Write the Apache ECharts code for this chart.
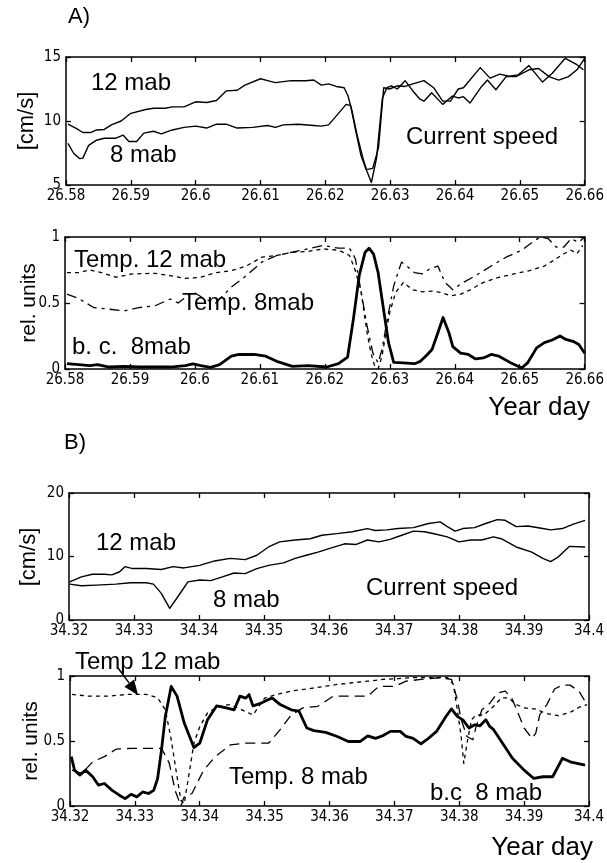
<!DOCTYPE html>
<html>
<head>
<meta charset="utf-8">
<script src="https://cdn.jsdelivr.net/npm/echarts/dist/echarts.min.js"></script>
<style>
  html, body { margin: 0; padding: 0; background: #ffffff; }
  #chart { width: 607px; height: 863px; }
</style>
</head>
<body>
<div id="chart"></div>
<script>
// ---------------- DATA ----------------
// Axis ranges (year day) and y ranges
const rangeA = [26.58, 26.66];
const rangeB = [34.32, 34.40];
const xTickStep = 0.01;
const speedRangeA = [5, 15, 5];   // min, max, interval
const speedRangeB = [0, 20, 10];
const relRange = [0, 1, 0.5];

// Panel A) current speed [cm/s]
const A_speed12 = [[26.5803,9.76],[26.5815,9.44],[26.5826,9.1],[26.5838,9.1],[26.5847,9.3],[26.5859,9.34],[26.5870,9.7],[26.5885,10.0],[26.5900,10.6],[26.5923,10.9],[26.5935,11.0],[26.5953,11.0],[26.5964,11.1],[26.5982,11.1],[26.6000,11.5],[26.6017,11.45],[26.6032,11.6],[26.6047,12.35],[26.6064,12.4],[26.6076,12.8],[26.6100,13.3],[26.6111,13.15],[26.6123,13.0],[26.6147,13.15],[26.6170,13.15],[26.6182,13.2],[26.6194,12.8],[26.6205,12.9],[26.6217,12.7],[26.6229,12.6],[26.6235,11.95],[26.6241,10.8],[26.6249,8.9],[26.6258,7.1],[26.6264,6.1],[26.6271,5.2],[26.6279,7.1],[26.6288,11.8],[26.6295,12.6],[26.6302,12.75],[26.6311,12.5],[26.6323,13.15],[26.6335,12.35],[26.6346,11.7],[26.6352,11.55],[26.6364,12.2],[26.6381,11.3],[26.6396,11.95],[26.6405,11.8],[26.6413,11.9],[26.6423,11.4],[26.6441,12.7],[26.6450,13.2],[26.6463,12.44],[26.6479,13.47],[26.6494,13.47],[26.6514,14.0],[26.6529,14.1],[26.6545,13.47],[26.6560,13.2],[26.6575,13.47],[26.6588,14.0],[26.6600,14.9]];
const A_speed8 = [[26.5803,8.25],[26.5812,7.46],[26.5821,7.06],[26.5826,7.1],[26.5835,8.1],[26.5847,8.5],[26.5859,8.65],[26.5876,8.65],[26.5888,8.9],[26.5897,8.4],[26.5909,8.4],[26.5920,9.05],[26.5935,9.2],[26.5947,9.0],[26.5964,9.3],[26.5982,9.5],[26.6000,9.6],[26.6017,9.45],[26.6032,9.75],[26.6047,9.75],[26.6064,9.45],[26.6088,9.5],[26.6111,9.65],[26.6123,9.5],[26.6135,9.7],[26.6158,9.75],[26.6182,9.65],[26.6194,9.6],[26.6205,9.7],[26.6217,10.4],[26.6232,11.3],[26.6239,11.2],[26.6246,9.45],[26.6255,7.3],[26.6263,6.2],[26.6273,6.3],[26.6282,7.9],[26.6290,12.6],[26.6299,12.5],[26.6311,12.75],[26.6323,12.7],[26.6335,12.9],[26.6352,13.15],[26.6367,12.6],[26.6381,11.55],[26.6393,11.55],[26.6405,12.5],[26.6413,12.6],[26.6439,14.17],[26.6454,13.35],[26.6469,13.66],[26.6483,13.5],[26.6497,13.6],[26.6514,14.33],[26.6535,13.04],[26.6550,13.73],[26.6570,14.9],[26.6588,14.4],[26.6598,14.0]];

// Panel A) relative units
const A_bc8 = [[26.5803,0.04],[26.5821,0.033],[26.5838,0.025],[26.5850,0.033],[26.5868,0.015],[26.5891,0.02],[26.5915,0.015],[26.5938,0.015],[26.5962,0.015],[26.5985,0.025],[26.5997,0.038],[26.6009,0.025],[26.6024,0.013],[26.6038,0.033],[26.6056,0.097],[26.6068,0.11],[26.6091,0.11],[26.6109,0.097],[26.6126,0.058],[26.6150,0.02],[26.6174,0.025],[26.6203,0.015],[26.6221,0.04],[26.6235,0.09],[26.6244,0.38],[26.6253,0.71],[26.6262,0.885],[26.6268,0.915],[26.6275,0.87],[26.6282,0.73],[26.6291,0.43],[26.6298,0.2],[26.6306,0.05],[26.6321,0.046],[26.6338,0.04],[26.6347,0.058],[26.6356,0.1],[26.6365,0.148],[26.6374,0.275],[26.6382,0.39],[26.6391,0.275],[26.6397,0.17],[26.6409,0.12],[26.6421,0.11],[26.6432,0.076],[26.6444,0.084],[26.6456,0.11],[26.6468,0.097],[26.6485,0.05],[26.6503,0.008],[26.6512,0.046],[26.6526,0.16],[26.6538,0.2],[26.6550,0.22],[26.6562,0.25],[26.6571,0.224],[26.6582,0.21],[26.6591,0.186],[26.6600,0.12]];
const A_temp12 = [[26.5803,0.73],[26.5821,0.73],[26.5838,0.75],[26.5856,0.73],[26.5879,0.695],[26.5903,0.72],[26.5938,0.725],[26.5962,0.707],[26.5985,0.687],[26.6009,0.695],[26.6032,0.73],[26.6056,0.745],[26.6079,0.78],[26.6103,0.847],[26.6126,0.86],[26.6150,0.885],[26.6174,0.89],[26.6197,0.91],[26.6221,0.9],[26.6238,0.86],[26.6247,0.745],[26.6256,0.58],[26.6265,0.275],[26.6271,0.12],[26.6276,0.033],[26.6282,0.0],[26.6288,0.097],[26.6294,0.275],[26.6300,0.43],[26.6309,0.58],[26.6321,0.656],[26.6335,0.6],[26.6350,0.585],[26.6365,0.59],[26.6379,0.58],[26.6394,0.555],[26.6409,0.567],[26.6424,0.6],[26.6444,0.656],[26.6468,0.695],[26.6491,0.72],[26.6515,0.745],[26.6538,0.78],[26.6556,0.835],[26.6568,0.873],[26.6579,0.9],[26.6588,0.873],[26.6597,0.936]];
const A_temp8 = [[26.5803,0.567],[26.5821,0.534],[26.5844,0.466],[26.5868,0.453],[26.5891,0.44],[26.5915,0.466],[26.5938,0.478],[26.5962,0.53],[26.5974,0.5],[26.5997,0.585],[26.6015,0.53],[26.6032,0.5],[26.6056,0.62],[26.6079,0.707],[26.6103,0.81],[26.6126,0.86],[26.6150,0.885],[26.6174,0.91],[26.6197,0.936],[26.6221,0.915],[26.6238,0.915],[26.6247,0.835],[26.6256,0.58],[26.6265,0.326],[26.6274,0.12],[26.6282,0.046],[26.6288,0.148],[26.6297,0.4],[26.6306,0.63],[26.6318,0.81],[26.6326,0.78],[26.6338,0.73],[26.6350,0.72],[26.6362,0.76],[26.6374,0.78],[26.6385,0.656],[26.6397,0.6],[26.6409,0.644],[26.6432,0.707],[26.6456,0.78],[26.6479,0.847],[26.6503,0.9],[26.6521,0.967],[26.6532,1.0],[26.6544,0.987],[26.6556,0.924],[26.6568,0.924],[26.6579,0.987],[26.6591,0.96],[26.6600,1.0]];

// Panel B) current speed [cm/s]
const B_speed12 = [[34.3201,6.0],[34.3219,6.8],[34.3236,7.2],[34.3254,7.2],[34.3266,7.1],[34.3278,7.6],[34.3286,8.4],[34.3298,8.1],[34.3319,8.1],[34.3342,7.96],[34.3360,8.4],[34.3377,8.2],[34.3401,8.6],[34.3424,9.3],[34.3448,9.7],[34.3471,9.5],[34.3489,10.2],[34.3507,11.5],[34.3524,12.3],[34.3548,12.6],[34.3571,12.8],[34.3589,13.35],[34.3612,13.6],[34.3636,13.9],[34.3659,14.4],[34.3671,14.1],[34.3689,14.2],[34.3706,14.4],[34.3730,14.55],[34.3753,15.2],[34.3771,15.45],[34.3782,14.7],[34.3794,14.0],[34.3806,14.4],[34.3824,14.55],[34.3841,15.2],[34.3859,15.8],[34.3871,15.7],[34.3888,14.7],[34.3906,14.8],[34.3929,14.4],[34.3941,14.2],[34.3959,14.4],[34.3976,15.1],[34.3994,15.7]];
const B_speed8 = [[34.3201,5.65],[34.3219,5.4],[34.3242,5.5],[34.3272,5.65],[34.3295,5.86],[34.3319,5.86],[34.3330,5.65],[34.3342,4.2],[34.3355,1.83],[34.3369,3.9],[34.3383,6.0],[34.3401,6.3],[34.3418,6.2],[34.3436,6.8],[34.3454,7.4],[34.3471,7.3],[34.3489,8.1],[34.3507,8.6],[34.3530,9.0],[34.3548,9.7],[34.3565,10.2],[34.3583,10.7],[34.3600,11.25],[34.3624,12.0],[34.3642,11.9],[34.3659,12.6],[34.3677,12.3],[34.3694,12.7],[34.3712,13.35],[34.3730,14.0],[34.3747,13.9],[34.3765,13.5],[34.3782,13.1],[34.3800,12.3],[34.3818,12.6],[34.3835,12.6],[34.3853,13.1],[34.3865,12.8],[34.3888,11.5],[34.3912,10.7],[34.3929,9.7],[34.3941,9.2],[34.3953,9.95],[34.3970,11.6],[34.3994,11.5]];

// Panel B) relative units
const B_bc8 = [[34.3202,0.38],[34.3207,0.276],[34.3215,0.238],[34.3224,0.276],[34.3235,0.225],[34.3244,0.16],[34.3253,0.173],[34.3265,0.12],[34.3276,0.083],[34.3285,0.057],[34.3294,0.09],[34.3303,0.07],[34.3312,0.108],[34.3321,0.096],[34.3329,0.12],[34.3335,0.21],[34.3341,0.43],[34.3347,0.69],[34.3356,0.92],[34.3365,0.845],[34.3376,0.64],[34.3391,0.45],[34.3400,0.483],[34.3412,0.664],[34.3426,0.77],[34.3441,0.755],[34.3453,0.74],[34.3462,0.845],[34.3471,0.83],[34.3476,0.857],[34.3482,0.77],[34.3494,0.79],[34.3506,0.82],[34.3512,0.83],[34.3524,0.78],[34.3541,0.74],[34.3553,0.73],[34.3565,0.6],[34.3576,0.58],[34.3594,0.566],[34.3612,0.535],[34.3629,0.496],[34.3647,0.496],[34.3659,0.54],[34.3671,0.52],[34.3682,0.54],[34.3694,0.574],[34.3709,0.574],[34.3718,0.535],[34.3729,0.52],[34.3741,0.478],[34.3750,0.51],[34.3765,0.574],[34.3779,0.685],[34.3788,0.747],[34.3797,0.69],[34.3806,0.66],[34.3815,0.6],[34.3824,0.625],[34.3832,0.617],[34.3841,0.664],[34.3847,0.612],[34.3853,0.587],[34.3865,0.496],[34.3882,0.367],[34.3900,0.276],[34.3915,0.212],[34.3929,0.225],[34.3944,0.225],[34.3959,0.367],[34.3971,0.34],[34.3994,0.315]];
const B_temp12 = [[34.3203,0.858],[34.3229,0.845],[34.3259,0.845],[34.3288,0.858],[34.3318,0.858],[34.3335,0.832],[34.3347,0.74],[34.3356,0.51],[34.3365,0.225],[34.3371,0.044],[34.3376,0.018],[34.3382,0.2],[34.3391,0.483],[34.3400,0.61],[34.3412,0.716],[34.3429,0.767],[34.3447,0.78],[34.3465,0.74],[34.3482,0.7],[34.3500,0.83],[34.3518,0.858],[34.3541,0.884],[34.3565,0.9],[34.3588,0.917],[34.3612,0.935],[34.3635,0.948],[34.3659,0.96],[34.3682,0.974],[34.3706,0.98],[34.3729,0.987],[34.3753,0.987],[34.3782,0.987],[34.3791,0.935],[34.3797,0.74],[34.3803,0.535],[34.3807,0.328],[34.3812,0.483],[34.3819,0.664],[34.3826,0.7],[34.3838,0.7],[34.3853,0.767],[34.3865,0.832],[34.3876,0.832],[34.3888,0.78],[34.3900,0.755],[34.3918,0.745],[34.3935,0.71],[34.3953,0.695],[34.3971,0.72],[34.3985,0.76],[34.3997,0.78]];
const B_temp8 = [[34.3203,0.276],[34.3218,0.25],[34.3235,0.34],[34.3253,0.38],[34.3271,0.437],[34.3294,0.444],[34.3318,0.444],[34.3341,0.444],[34.3353,0.33],[34.3362,0.12],[34.3371,0.0],[34.3376,0.07],[34.3388,0.096],[34.3406,0.276],[34.3424,0.38],[34.3447,0.47],[34.3471,0.483],[34.3506,0.483],[34.3524,0.587],[34.3541,0.7],[34.3559,0.755],[34.3582,0.767],[34.3606,0.845],[34.3635,0.845],[34.3659,0.845],[34.3676,0.92],[34.3700,0.92],[34.3718,0.96],[34.3741,0.974],[34.3771,0.987],[34.3788,0.974],[34.3797,0.82],[34.3803,0.664],[34.3812,0.535],[34.3821,0.51],[34.3826,0.612],[34.3835,0.74],[34.3847,0.79],[34.3859,0.87],[34.3871,0.884],[34.3882,0.82],[34.3900,0.6],[34.3912,0.52],[34.3918,0.56],[34.3924,0.70],[34.3935,0.78],[34.3947,0.9],[34.3959,0.93],[34.3971,0.93],[34.3985,0.88],[34.3997,0.78]];

// Annotation anchor (data coords in panel B lower) for the arrow tip
const arrowTipB = [34.3305, 0.852];

// ---------------- CHART ----------------
const TICK_FONT = "'DejaVu Sans Condensed', 'Liberation Sans Narrow', 'Arial Narrow', sans-serif";
const TEXT_FONT = "'Liberation Sans', Arial, Helvetica, sans-serif";
const BLACK = '#000';

const grids = [
  {left: 66, top: 57,  width: 527, height: 128},
  {left: 65, top: 237, width: 527, height: 132},
  {left: 69, top: 493, width: 527, height: 127},
  {left: 70, top: 676, width: 527, height: 130}
];
const xRanges = [rangeA, rangeA, rangeB, rangeB];
const yRanges = [speedRangeA, relRange, speedRangeB, relRange];

function fmt(v) { return String(parseFloat(Number(v).toFixed(2))); }

const xAxis = [], yAxis = [];
grids.forEach((g, i) => {
  const xr = xRanges[i], yr = yRanges[i];
  ['bottom', 'top'].forEach((pos, k) => {
    xAxis.push({
      type: 'value', gridIndex: i, position: pos,
      min: xr[0], max: xr[1], interval: xTickStep,
      axisLine: {show: true, onZero: false, lineStyle: {color: BLACK, width: 1.5}},
      axisTick: {show: true, inside: true, length: 5, lineStyle: {color: BLACK, width: 1.3}},
      axisLabel: {show: k === 0, color: BLACK, fontFamily: TICK_FONT, fontSize: 15, margin: 4, formatter: fmt},
      splitLine: {show: false}
    });
  });
  ['left', 'right'].forEach((pos, k) => {
    yAxis.push({
      type: 'value', gridIndex: i, position: pos,
      min: yr[0], max: yr[1], interval: yr[2],
      axisLine: {show: true, onZero: false, lineStyle: {color: BLACK, width: 1.5}},
      axisTick: {show: true, inside: true, length: 5, lineStyle: {color: BLACK, width: 1.3}},
      axisLabel: {show: k === 0, color: BLACK, fontFamily: TICK_FONT, fontSize: 15, margin: 5, formatter: fmt},
      splitLine: {show: false}
    });
  });
});

function line(data, gi, width, type) {
  return {
    type: 'line', data: data, xAxisIndex: 2 * gi, yAxisIndex: 2 * gi,
    showSymbol: false, symbol: 'none', silent: true, clip: true,
    lineStyle: {color: BLACK, width: width, type: type || 'solid', cap: 'butt', join: 'round'},
    z: 3
  };
}

const series = [
  line(A_speed12, 0, 1.4),
  line(A_speed8, 0, 1.4),
  line(A_temp12, 1, 1.3, [4, 4]),
  line(A_temp8, 1, 1.3, [10, 5, 3, 5]),
  line(A_bc8, 1, 2.8),
  line(B_speed12, 2, 1.4),
  line(B_speed8, 2, 1.4),
  line(B_temp12, 3, 1.3, [4, 4]),
  line(B_temp8, 3, 1.3, [10, 6]),
  line(B_bc8, 3, 2.8)
];

function txt(x, y, s, size, align, rot) {
  return {
    type: 'text', x: x, y: y, rotation: rot || 0, z: 10,
    style: {text: s, fill: BLACK, font: size + 'px ' + TEXT_FONT,
            textAlign: align || 'left', textVerticalAlign: 'middle'}
  };
}

const graphics = [
  txt(68, 17, 'A)', 22),
  txt(27, 121, '[cm/s]', 22, 'center', Math.PI / 2),
  txt(91, 83, '12 mab', 24),
  txt(110, 155, '8 mab', 24),
  txt(406, 137, 'Current speed', 24),
  txt(29, 303, 'rel. units', 21, 'center', Math.PI / 2),
  txt(74, 260, 'Temp. 12 mab', 24),
  txt(182, 303, 'Temp. 8mab', 24),
  txt(72, 347, 'b. c.  8mab', 24),
  txt(590, 408, 'Year day', 26, 'right'),
  txt(64, 443, 'B)', 22),
  txt(29, 557, '[cm/s]', 22, 'center', Math.PI / 2),
  txt(96, 543, '12 mab', 24),
  txt(213, 600, '8 mab', 24),
  txt(366, 588, 'Current speed', 24),
  txt(31, 741, 'rel. units', 21, 'center', Math.PI / 2),
  txt(75, 662, 'Temp 12 mab', 24),
  txt(229, 777, 'Temp. 8 mab', 24),
  txt(430, 793, 'b.c  8 mab', 24),
  txt(593, 848, 'Year day', 26, 'right')
];

const chart = echarts.init(document.getElementById('chart'), null, {renderer: 'canvas', width: 607, height: 863});
chart.setOption({
  backgroundColor: '#ffffff',
  animation: false,
  grid: grids.map(g => Object.assign({containLabel: false}, g)),
  xAxis: xAxis,
  yAxis: yAxis,
  series: series,
  graphic: graphics
});

// Arrow from the "Temp 12 mab" label to the 12 mab temperature line (panel B)
const tip = chart.convertToPixel({xAxisIndex: 6, yAxisIndex: 6}, arrowTipB);
const start = [118, 668];
const dx = tip[0] - start[0], dy = tip[1] - start[1];
const len = Math.sqrt(dx * dx + dy * dy);
const ux = dx / len, uy = dy / len;
const headLen = 15, headHalf = 6;
const bx = tip[0] - ux * headLen, by = tip[1] - uy * headLen;
graphics.push({
  type: 'line', z: 10,
  shape: {x1: start[0], y1: start[1], x2: bx, y2: by},
  style: {stroke: BLACK, lineWidth: 1.5}
});
graphics.push({
  type: 'polygon', z: 10,
  shape: {points: [[tip[0], tip[1]], [bx - uy * headHalf, by + ux * headHalf], [bx + uy * headHalf, by - ux * headHalf]]},
  style: {fill: BLACK}
});
chart.setOption({graphic: graphics});
</script>
</body>
</html>
